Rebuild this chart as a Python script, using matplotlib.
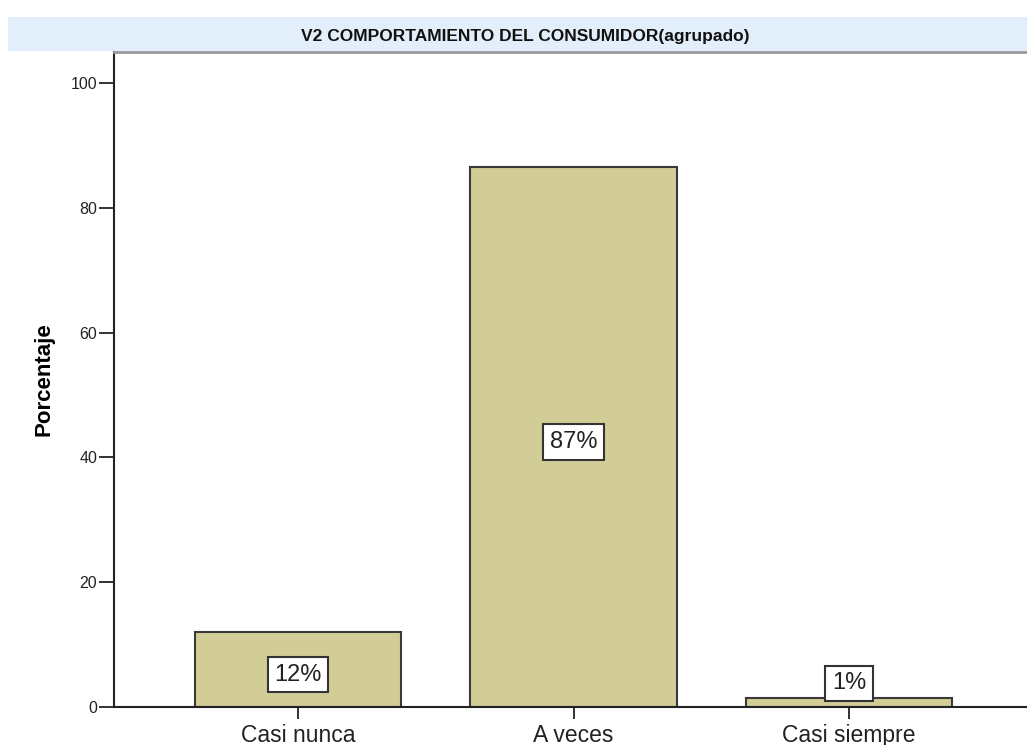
import matplotlib
matplotlib.use("Agg")
import matplotlib.pyplot as plt
from matplotlib.patches import Rectangle

categories = ["Casi nunca", "A veces", "Casi siempre"]
values = [12.0, 86.6, 1.4]
labels = ["12%", "87%", "1%"]
yticks = [0, 20, 40, 60, 80, 100]
title = "V2 COMPORTAMIENTO DEL CONSUMIDOR(agrupado)"
ylabel = "Porcentaje"

plt.rcParams['font.family'] = ['Liberation Sans', 'DejaVu Sans']

W, H = 1027, 745
fig = plt.figure(figsize=(W / 100, H / 100), dpi=100)

# title band
fig.patches.append(Rectangle((8 / W, 1 - 51 / H), 1 - 8 / W, 34 / H,
                             transform=fig.transFigure, facecolor="#E2EEFA",
                             edgecolor="none", zorder=0))
fig.text(525 / W, 1 - 37 / H, title, ha="center", va="center",
         fontsize=12.5, fontweight="bold", color="#111111")

ax = fig.add_axes([114 / W, 1 - 707 / H, 1 - 114 / W, (707 - 52) / H])
x = list(range(len(categories)))
ax.bar(x, values, width=0.75, color="#D2CD97", edgecolor="#3a3a3a",
       linewidth=1.5, zorder=2)
for xi, v, lab in zip(x, values, labels):
    ax.annotate(lab, (xi, max(v / 2, 4.6)), xytext=(0, -5),
                textcoords="offset pixels", ha="center", va="center",
                fontsize=17, color="#222222", zorder=4,
                bbox=dict(boxstyle="square,pad=0.28", facecolor="white",
                          edgecolor="#333333", linewidth=1.5))

ax.set_xlim(-0.668, 2.646)
ax.set_ylim(0, 105)
ax.set_yticks(yticks)
ax.set_xticks(x)
ax.set_xticklabels(categories, fontsize=16.5, color="#222222")
ax.tick_params(axis="y", length=11, width=1.3, labelsize=11.5, pad=1,
               colors="#222222")
ax.tick_params(axis="x", length=8.5, width=1.3, pad=4, colors="#222222")
ax.set_ylabel(ylabel, fontsize=16, fontweight="bold")
ax.yaxis.set_label_coords(-59 / (W - 114), 0.5)

for s in ["left", "bottom"]:
    ax.spines[s].set_linewidth(1.5)
    ax.spines[s].set_color("#222222")
ax.spines["right"].set_visible(False)
ax.spines["top"].set_color("#999999")
ax.spines["top"].set_linewidth(2)

fig.savefig("out.png", dpi=100)
